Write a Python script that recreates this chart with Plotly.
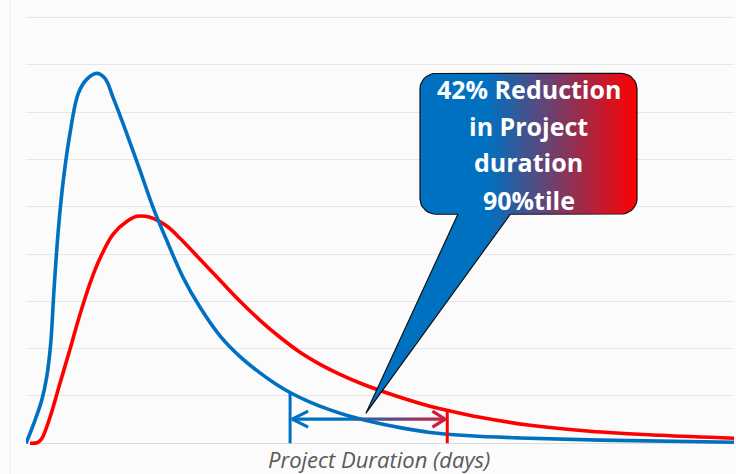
import numpy as np
import plotly.graph_objects as go

# ---------------- data ----------------
# x: project duration (relative units, 0-100), y: relative frequency (0-9 grid units)
after_x = [0, 1.27, 2.22, 2.92, 3.49, 3.95, 4.56, 5.27, 6.21, 7.39, 8.57, 9.99, 11.16,
           12.29, 14.22, 16.10, 17.94, 19.87, 22.18, 24.58, 27.40, 30.23, 33.05, 35.17,
           37.29, 40.11, 42.94, 45.76, 49.29, 52.82, 57.06, 62.71, 69.77, 81.07, 100]
after_y = [0, 0.486, 0.909, 1.394, 2.113, 3.233, 4.500, 5.557, 6.550, 7.395, 7.691, 7.818,
           7.712, 7.310, 6.550, 5.768, 4.986, 4.289, 3.507, 2.873, 2.270, 1.831, 1.487,
           1.264, 1.073, 0.870, 0.706, 0.571, 0.437, 0.331, 0.229, 0.158, 0.112, 0.067,
           0.022]

before_x = [0.56, 1.69, 2.26, 3.39, 4.80, 6.21, 7.63, 9.04, 10.45, 12.29, 14.27, 15.68,
            17.51, 19.92, 21.75, 24.58, 27.40, 30.23, 33.05, 35.88, 38.70, 41.53, 44.35,
            47.60, 52.40, 57.06, 59.46, 64.12, 71.19, 79.66, 89.55, 100]
before_y = [0, 0.021, 0.106, 0.549, 1.268, 1.986, 2.726, 3.381, 3.909, 4.416, 4.691, 4.796,
            4.775, 4.585, 4.331, 3.888, 3.444, 3.000, 2.599, 2.240, 1.923, 1.669, 1.458,
            1.247, 0.993, 0.782, 0.697, 0.549, 0.380, 0.254, 0.169, 0.106]

P90_AFTER = 37.3    # 90th percentile, blue curve
P90_BEFORE = 59.5   # 90th percentile, red curve
ARROW_Y = 0.51

callout_lines = ["42% Reduction", "in Project", "duration", "90%tile"]
axis_title = "Project Duration (days)"

# ---------------- styles ----------------
BLUE = "#0070C0"
RED = "#FF0000"
CRIMSON = "#C8203C"
BG = "#fbfbfb"

fig = go.Figure()

# distributions
fig.add_trace(go.Scatter(x=before_x, y=before_y, mode="lines",
                         line=dict(color=RED, width=3.6, shape="spline", smoothing=1.0)))
fig.add_trace(go.Scatter(x=after_x, y=after_y, mode="lines",
                         line=dict(color=BLUE, width=3.6, shape="spline", smoothing=1.0)))

# 90th percentile markers
h_after = float(np.interp(P90_AFTER, after_x, after_y))
h_before = float(np.interp(P90_BEFORE, before_x, before_y))
fig.add_trace(go.Scatter(x=[P90_AFTER, P90_AFTER], y=[0, h_after], mode="lines",
                         line=dict(color=BLUE, width=3)))
fig.add_trace(go.Scatter(x=[P90_BEFORE, P90_BEFORE], y=[0, h_before], mode="lines",
                         line=dict(color=RED, width=3)))

# gradient arrow shaft
half = 0.034
xa0, xa1 = P90_AFTER + 0.3, P90_BEFORE - 0.3
fig.add_trace(go.Scatter(
    x=[xa0, xa1, xa1, xa0, xa0],
    y=[ARROW_Y - half, ARROW_Y - half, ARROW_Y + half, ARROW_Y + half, ARROW_Y - half],
    mode="none", fill="toself",
    fillgradient=dict(type="horizontal",
                      colorscale=[[0, BLUE], [0.35, BLUE], [1, CRIMSON]])))
# arrow heads
hw, hh = 2.25, 0.17
fig.add_trace(go.Scatter(x=[xa0 + hw, xa0, xa0 + hw],
                         y=[ARROW_Y + hh, ARROW_Y, ARROW_Y - hh], mode="lines",
                         line=dict(color=BLUE, width=3.2)))
fig.add_trace(go.Scatter(x=[xa1 - hw * 0.8, xa1, xa1 - hw * 0.8],
                         y=[ARROW_Y + hh, ARROW_Y, ARROW_Y - hh], mode="lines",
                         line=dict(color=CRIMSON, width=3.2)))

# callout (rounded rectangle with tail)
bx0, bx1 = 55.65, 86.30
by0, by1 = 4.84, 7.82
rx, ry = 2.3, 0.33
tail_l, tail_r = 61.0, 68.4
tip_x, tip_y = 48.0, 0.63


def arc(cx, cy, a0, a1, n=10):
    t = np.radians(np.linspace(a0, a1, n))
    return list(cx + rx * np.cos(t)), list(cy + ry * np.sin(t))


px, py = [tail_r], [by0]
for (cx, cy, a0, a1) in [(bx1 - rx, by0 + ry, -90, 0),
                         (bx1 - rx, by1 - ry, 0, 90),
                         (bx0 + rx, by1 - ry, 90, 180),
                         (bx0 + rx, by0 + ry, 180, 270)]:
    ax_, ay_ = arc(cx, cy, a0, a1)
    px += ax_
    py += ay_
px += [tail_l, tip_x, tail_r]
py += [by0, tip_y, by0]

fig.add_trace(go.Scatter(
    x=px, y=py, mode="lines", fill="toself",
    line=dict(color="#111111", width=1.2),
    fillgradient=dict(type="horizontal",
                      colorscale=[[0, BLUE], [0.45, BLUE], [1, RED]])))

text_y = [7.48, 6.71, 5.94, 5.15]
cx_text = (bx0 + bx1) / 2
for line, ty in zip(callout_lines, text_y):
    fig.add_annotation(x=cx_text, y=ty, xref="x", yref="y", text="<b>" + line + "</b>",
                       showarrow=False, xanchor="center", yanchor="middle",
                       font=dict(family="Open Sans", size=25, color="white"))

# axis title
fig.add_annotation(x=0.4986, y=0, xref="paper", yref="y", text="<i>" + axis_title + "</i>",
                   showarrow=False, xanchor="center", yanchor="middle", yshift=-16,
                   borderpad=0,
                   font=dict(family="Open Sans", size=22, color="#595959"))

# chart-area left border
fig.add_shape(type="line", xref="paper", yref="paper", x0=-0.0226, x1=-0.0226,
              y0=-0.07, y1=1.05, line=dict(color="#ebebeb", width=1), layer="below")

fig.update_layout(
    width=736, height=474,
    margin=dict(l=26, r=2, t=16, b=26),
    paper_bgcolor=BG, plot_bgcolor=BG,
    showlegend=False, hovermode=False,
    xaxis=dict(range=[0, 100], showgrid=False, zeroline=False, showticklabels=False,
               ticks="", showline=False),
    yaxis=dict(range=[-0.1, 9.03], dtick=1, tick0=0, showgrid=True, gridcolor="#e6e6e6",
               gridwidth=1, zeroline=True, zerolinecolor="#dcdcdc", zerolinewidth=1,
               showticklabels=False, ticks="", showline=False),
)

fig.write_html("out.html", config={"displayModeBar": False},
               post_script="document.body.style.margin='0';"
                           "document.body.style.overflow='hidden';")
